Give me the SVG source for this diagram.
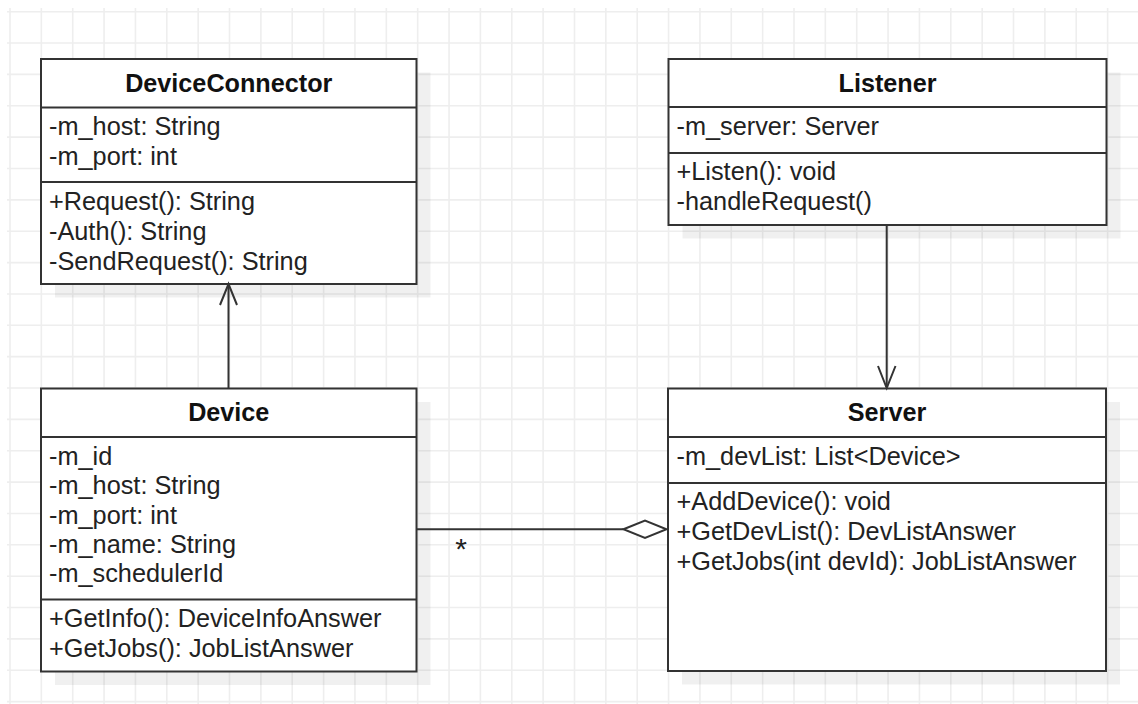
<svg xmlns="http://www.w3.org/2000/svg" width="1138" height="704" viewBox="0 0 1138 704">
  <style>
    .grid { stroke: #eeeeee; stroke-width: 1.6; fill: none; }
    .shadow { fill: #000; fill-opacity: 0.06; }
    .box { fill: #ffffff; stroke: #333333; stroke-width: 2; }
    .sep { stroke: #333333; stroke-width: 2; fill: none; }
    .title { font-family: "Liberation Sans", Arial, sans-serif; font-size: 25.2px; font-weight: bold; fill: #111; text-anchor: middle; }
    .member { font-family: "Liberation Sans", Arial, sans-serif; font-size: 25.3px; fill: #222; }
    .edge { stroke: #333333; stroke-width: 2; fill: none; }
    .head { stroke: #333333; stroke-width: 2; fill: none; stroke-linejoin: miter; }
    .diamond { stroke: #333333; stroke-width: 2; fill: #ffffff; }
    .mult { font-family: "Liberation Sans", Arial, sans-serif; font-size: 30px; fill: #222; text-anchor: middle; }
  </style>

  <rect width="1138" height="704" fill="#ffffff"/>

  <!-- background grid -->
  <path class="grid" d="
    M10 8V704 M41.36 8V704 M72.72 8V704 M104.08 8V704 M135.44 8V704 M166.8 8V704
    M198.16 8V704 M229.52 8V704 M260.88 8V704 M292.24 8V704 M323.6 8V704 M354.96 8V704
    M386.32 8V704 M417.68 8V704 M449.04 8V704 M480.4 8V704 M511.76 8V704 M543.12 8V704
    M574.48 8V704 M605.84 8V704 M637.2 8V704 M668.56 8V704 M699.92 8V704 M731.28 8V704
    M762.64 8V704 M794 8V704 M825.36 8V704 M856.72 8V704 M888.08 8V704 M919.44 8V704
    M950.8 8V704 M982.16 8V704 M1013.52 8V704 M1044.88 8V704 M1076.24 8V704 M1107.6 8V704
    M7 11.7H1138 M7 43.06H1138 M7 74.42H1138 M7 105.78H1138 M7 137.14H1138 M7 168.5H1138
    M7 199.86H1138 M7 231.22H1138 M7 262.58H1138 M7 293.94H1138 M7 325.3H1138 M7 356.66H1138
    M7 388.02H1138 M7 419.38H1138 M7 450.74H1138 M7 482.1H1138 M7 513.46H1138 M7 544.82H1138
    M7 576.18H1138 M7 607.54H1138 M7 638.9H1138 M7 670.26H1138 M7 701.62H1138"/>

  <!-- DeviceConnector class -->
  <g id="device-connector">
    <rect class="shadow" x="55" y="72.5" width="375.5" height="225"/>
    <rect class="box" x="41" y="59" width="375.5" height="225"/>
    <path class="sep" d="M41 107.5H416.5 M41 182H416.5"/>
    <text class="title" x="228.75" y="91.5">DeviceConnector</text>
    <text class="member" x="49" y="135">-m_host: String</text>
    <text class="member" x="49" y="165">-m_port: int</text>
    <text class="member" x="49" y="210">+Request(): String</text>
    <text class="member" x="49" y="240">-Auth(): String</text>
    <text class="member" x="49" y="270">-SendRequest(): String</text>
  </g>

  <!-- Listener class -->
  <g id="listener">
    <rect class="shadow" x="682.5" y="72.5" width="438" height="166"/>
    <rect class="box" x="668.5" y="59" width="438" height="166"/>
    <path class="sep" d="M668.5 107H1106.5 M668.5 153H1106.5"/>
    <text class="title" x="887.5" y="91.5">Listener</text>
    <text class="member" x="676.5" y="135">-m_server: Server</text>
    <text class="member" x="676.5" y="180">+Listen(): void</text>
    <text class="member" x="676.5" y="210">-handleRequest()</text>
  </g>

  <!-- Device class -->
  <g id="device">
    <rect class="shadow" x="55" y="402" width="375.5" height="283"/>
    <rect class="box" x="41" y="388.5" width="375.5" height="283"/>
    <path class="sep" d="M41 437H416.5 M41 599.5H416.5"/>
    <text class="title" x="228.75" y="420.5">Device</text>
    <text class="member" x="49" y="464.5">-m_id</text>
    <text class="member" x="49" y="494">-m_host: String</text>
    <text class="member" x="49" y="523.5">-m_port: int</text>
    <text class="member" x="49" y="553">-m_name: String</text>
    <text class="member" x="49" y="582">-m_schedulerId</text>
    <text class="member" x="49" y="627">+GetInfo(): DeviceInfoAnswer</text>
    <text class="member" x="49" y="656.5">+GetJobs(): JobListAnswer</text>
  </g>

  <!-- Server class -->
  <g id="server">
    <rect class="shadow" x="682" y="402" width="438" height="282.5"/>
    <rect class="box" x="668" y="388.5" width="438" height="282.5"/>
    <path class="sep" d="M668 437H1106 M668 483H1106"/>
    <text class="title" x="887" y="420.5">Server</text>
    <text class="member" x="676.5" y="465">-m_devList: List&lt;Device&gt;</text>
    <text class="member" x="676.5" y="510">+AddDevice(): void</text>
    <text class="member" x="676.5" y="540">+GetDevList(): DevListAnswer</text>
    <text class="member" x="676.5" y="570">+GetJobs(int devId): JobListAnswer</text>
  </g>

  <!-- connectors -->
  <g id="connectors">
    <!-- Device uses DeviceConnector -->
    <path class="edge" d="M228.5 388.5V285"/>
    <path class="head" d="M220 305L228.5 284L237 305"/>
    <!-- Listener holds Server -->
    <path class="edge" d="M886.7 225V387"/>
    <path class="head" d="M878 366L886.7 388L895.5 366"/>
    <!-- Server aggregates Devices -->
    <path class="edge" d="M416.5 529.3H623.5"/>
    <path class="diamond" d="M623.5 529.3L645 520.6L666.5 529.3L645 538Z"/>
    <text class="mult" x="461" y="559">*</text>
  </g>
</svg>
